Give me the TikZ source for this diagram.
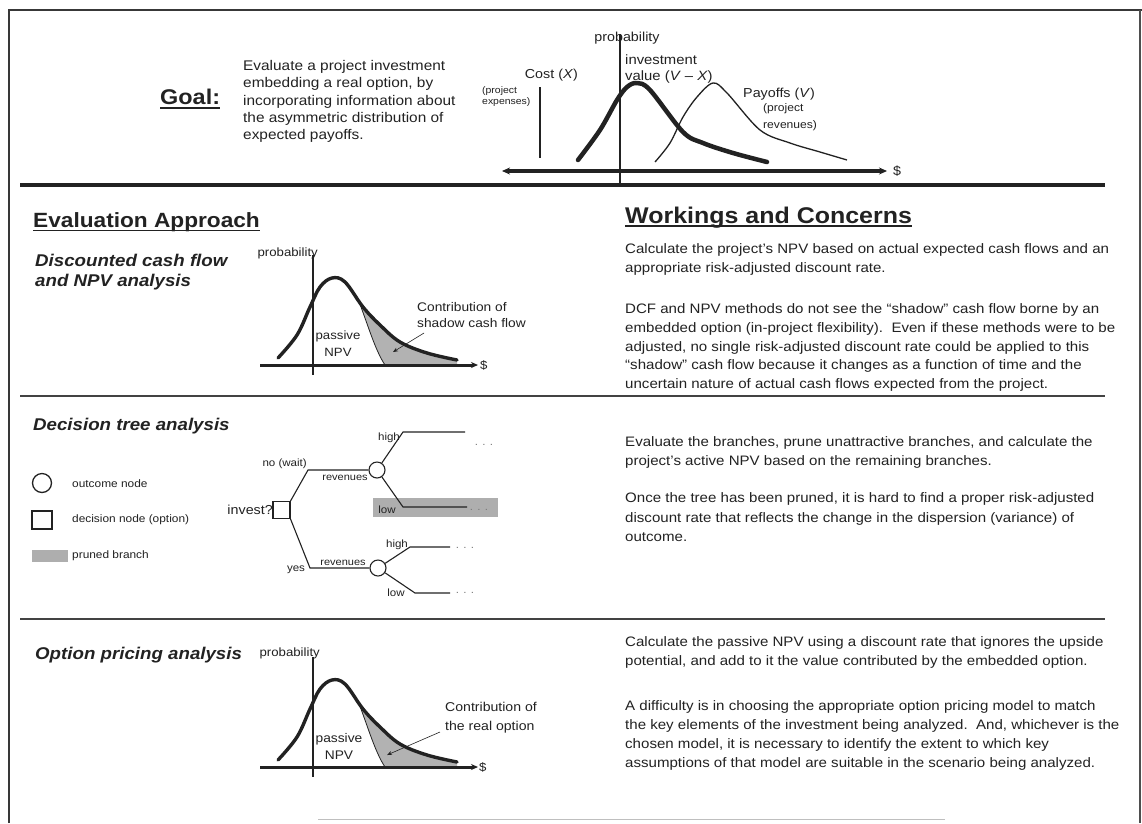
\documentclass[tikz,border=0pt]{standalone}
\usepackage{fontspec}
\setmainfont[FakeStretch=1.1]{Liberation Sans}
\usetikzlibrary{arrows.meta,calc}
\definecolor{ink}{HTML}{222222}
\definecolor{shadegray}{HTML}{B2B2B2}
\definecolor{prunegray}{HTML}{AEAEAE}
\newcommand\ptext[1]{\parbox[t]{560pt}{\raggedright #1}}
\newcommand\fs[2]{\fontsize{#1}{#2}\selectfont}
\tikzset{
  txt/.style={inner sep=0pt, anchor=base west, text=ink},
  body/.style={txt, font=\fs{13.7}{19}},
  head/.style={txt, font=\fs{17}{20}\bfseries\itshape},
  lbl/.style={inner sep=0pt, text=ink, font=\fs{12}{16}},
  tree/.style={inner sep=0pt, text=ink, font=\fs{10.5}{12}},
  branch/.style={line width=1.1pt, ink},
  leader/.style={line width=0.6pt, ink, -{Stealth[length=5pt,width=4pt]}},
  sep/.style={line width=1.5pt, ink!85},
}
\newcommand\DistChart{%
  \begin{scope}
    \clip plot[smooth,tension=0.6] coordinates {(-35,-7) (-16,-30) (-3,-58) (7,-78) (19,-87) (32,-83) (50,-58) (67,-40) (87,-23) (114,-12) (144,-5)} -- (144,0) -- (-35,0) -- cycle;
    \fill[shadegray] (45,-120) -- (45,-66) .. controls (55,-40) and (62,-15) .. (72,0) -- (170,0) -- (170,-120) -- cycle;
    \draw[line width=0.8pt, ink] (45,-66) .. controls (55,-40) and (62,-15) .. (72,0);
  \end{scope}
  \draw[line width=3.4pt, ink, line cap=round, line join=round] plot[smooth,tension=0.6] coordinates {(-35,-7) (-16,-30) (-3,-58) (7,-78) (19,-87) (32,-83) (50,-58) (67,-40) (87,-23) (114,-12) (144,-5)};
  \draw[line width=1.8pt, ink] (0,-110) -- (0,10);
  \draw[line width=3pt, ink, -{Stealth[length=7pt,width=6pt]}] (-53,0) -- (165,0);
}
\begin{document}
\begin{tikzpicture}[x=1pt,y=-1pt]
\useasboundingbox (0,0) rectangle (1142,823);
\fill[white] (0,0) rectangle (1142,823);
% frame
\draw[line width=2.4pt, ink!90] (9,823) -- (9,10) -- (1142,10);
\draw[line width=2pt, ink!80] (1140,10) -- (1140,823);
\draw[line width=1pt, black!25] (318,819) -- (945,819);

% ---------- Goal ----------
\node[txt, font=\fs{21.3}{24}\bfseries] (goal) at (160,104.7) {Goal:};
\draw[line width=1.8pt, ink] ($(goal.base west)+(0,3.5)$) -- ($(goal.base east)+(0,3.5)$);
\node[txt, font=\fs{14}{17.3}] (goaltext) at (243,70.5) {\ptext{Evaluate a project investment\\embedding a real option, by\\incorporating information about\\the asymmetric distribution of\\expected payoffs.}};

% top chart
\draw[line width=3.5pt, ink, {Stealth[length=8pt,width=7pt]}-{Stealth[length=8pt,width=7pt]}] (502,171) -- (887,171);
\draw[line width=2pt, ink] (620,34) -- (620,183);
\draw[line width=1.4pt, ink] (540,87) -- (540,158);
\draw[line width=4.5pt, ink, line cap=round, line join=round] plot[smooth, tension=0.55] coordinates {(578,160) (600,130) (617,100) (627,87) (637,83) (650,90) (683,132) (703,143) (733,153) (767,162)};
\draw[line width=1.3pt, ink] plot[smooth, tension=0.55] coordinates {(655,162) (670,143) (683,117) (697,97) (713,83) (727,93) (760,130) (790,143) (820,152) (847,160)};
\node[lbl, font=\fs{13}{15}] (tprob) at (627,38) {probability};
\node[lbl, font=\fs{13}{15}, anchor=east] (cost) at (578,75) {Cost (\textit{X})};
\node[txt, font=\fs{9.5}{10.5}] (costnote) at (482,93.5) {\ptext{(project\\expenses)}};
\node[txt, font=\fs{13.5}{16}] (invval) at (625,64.5) {\ptext{investment\\value (\textit{V} – \textit{X})}};
\node[txt, font=\fs{13}{15}] (payoffs) at (743,97.5) {Payoffs (\textit{V})};
\node[txt, font=\fs{11}{16.5}] (revnote) at (763,111.5) {\ptext{(project\\revenues)}};
\node[lbl, font=\fs{13}{15}, anchor=west] (tdollar) at (893,171) {\$};

\draw[line width=3.5pt, ink] (20,185) -- (1105,185);

% ---------- Section headings ----------
\node[txt, font=\fs{20.6}{24}\bfseries] (evalapp) at (33,227.5) {Evaluation Approach};
\draw[line width=1.6pt, ink] ($(evalapp.base west)+(0,3)$) -- ($(evalapp.base east)+(0,3)$);
\node[txt, font=\fs{22.7}{26}\bfseries] (workings) at (625,223) {Workings and Concerns};
\draw[line width=1.6pt, ink] ($(workings.base west)+(0,3)$) -- ($(workings.base east)+(0,3)$);

% ---------- DCF ----------
\node[head] (dcfhead) at (35,266) {\ptext{Discounted cash flow\\and NPV analysis}};
\begin{scope}[shift={(313,365)}]
  \DistChart
\end{scope}
\node[lbl, anchor=east] (dcfprob) at (318,253) {probability};
\node[lbl, align=center, font=\fs{12}{16.5}] (dcfnpv) at (338,343.5) {passive\\NPV};
\node[txt, font=\fs{12.5}{16}] (dcfcontrib) at (417,311) {\ptext{Contribution of\\shadow cash flow}};
\coordinate (dcfarrow) at (393,352);
\draw[leader] (424,333) -- (dcfarrow);
\node[lbl, anchor=west] (dcfdollar) at (480,365) {\$};

\node[body] (dcfp1) at (625,253.5) {\ptext{Calculate the project's NPV based on actual expected cash flows and an\\appropriate risk-adjusted discount rate.}};
\node[body, font=\fs{13.7}{18.8}] (dcfp2) at (625,313.5) {\ptext{DCF and NPV methods do not see the “shadow” cash flow borne by an\\embedded option (in-project flexibility).\ \ Even if these methods were to be\\adjusted, no single risk-adjusted discount rate could be applied to this\\“shadow” cash flow because it changes as a function of time and the\\uncertain nature of actual cash flows expected from the project.}};

\draw[sep] (20,396) -- (1105,396);

% ---------- Decision tree ----------
\node[head] (dthead) at (33,430) {Decision tree analysis};
% legend
\node[draw=ink, circle, minimum size=19pt, inner sep=0pt, line width=1.3pt] (legcirc) at (42,483) {};
\node[tree, anchor=west, font=\fs{10.8}{12}] (legcirct) at (72,484) {outcome node};
\node[draw=ink, rectangle, minimum width=20pt, minimum height=18pt, inner sep=0pt, line width=1.3pt] (legsq) at (42,520) {};
\node[tree, anchor=west, font=\fs{10.8}{12}] (legsqt) at (72,520) {decision node (option)};
\node[fill=prunegray, minimum width=36pt, minimum height=12pt, inner sep=0pt] (legpr) at (50,556) {};
\node[tree, anchor=west, font=\fs{10.8}{12}] (legprt) at (72,556) {pruned branch};

% tree
\node[fill=prunegray, minimum width=125pt, minimum height=19pt, inner sep=0pt] (prune) at (435.5,507.5) {};
\node[draw=ink, minimum size=17pt, inner sep=0pt, line width=1.1pt] (dec) at (281.5,510) {};
\node[tree, anchor=east, font=\fs{13}{14}] (invest) at (273,510) {invest?};
\node[draw=ink, circle, minimum size=16pt, inner sep=0pt, line width=1.1pt] (c1) at (377,470) {};
\node[draw=ink, circle, minimum size=16pt, inner sep=0pt, line width=1.1pt] (c2) at (378,568) {};
\coordinate (b1) at (308,470);
\coordinate (b2) at (403,432);
\coordinate (e2) at (465,432);
\coordinate (b3) at (403,507);
\coordinate (e3) at (467,507);
\coordinate (b4) at (310,568);
\coordinate (b5) at (410,547);
\coordinate (e5) at (450,547);
\coordinate (b6) at (415,593);
\coordinate (e6) at (450,593);
\draw[branch] (dec.north east) -- (b1) -- (c1);
\draw[branch] (c1) -- (b2) -- (e2);
\draw[branch] (c1) -- (b3) -- (e3);
\draw[branch] (dec.south east) -- (b4) -- (c2);
\draw[branch] (c2) -- (b5) -- (e5);
\draw[branch] (c2) -- (b6) -- (e6);
\node[tree, anchor=east] (nowait) at (307,464) {no (wait)};
\node[tree, font=\fs{10}{12}] (rev1) at (345,478) {revenues};
\node[tree] (high1) at (389,438) {high};
\node[tree, text=ink!60] (dots1) at (484,445) {. . .};
\node[tree] (low1) at (387,510) {low};
\node[tree, text=ink!60] (dots2) at (479,510) {. . .};
\node[tree] (yes) at (296,570) {yes};
\node[tree, font=\fs{10}{12}] (rev2) at (343,563) {revenues};
\node[tree] (high2) at (397,545) {high};
\node[tree, text=ink!60] (dots3) at (465,548) {. . .};
\node[tree] (low2) at (396,593) {low};
\node[tree, text=ink!60] (dots4) at (465,593) {. . .};

\node[body] (dtp1) at (625,446.5) {\ptext{Evaluate the branches, prune unattractive branches, and calculate the\\project's active NPV based on the remaining branches.}};
\node[body, font=\fs{13.7}{19.5}] (dtp2) at (625,502.5) {\ptext{Once the tree has been pruned, it is hard to find a proper risk-adjusted\\discount rate that reflects the change in the dispersion (variance) of\\outcome.}};

\draw[sep] (20,619) -- (1105,619);

% ---------- Option pricing ----------
\node[head] (ophead) at (35,659) {Option pricing analysis};
\begin{scope}[shift={(313,767)}]
  \DistChart
\end{scope}
\node[lbl, anchor=east] (opprob) at (320,653) {probability};
\node[lbl, align=center, font=\fs{12.5}{17}] (opnpv) at (339,746.5) {passive\\NPV};
\node[txt, font=\fs{12.8}{19}] (opcontrib) at (445,711) {\ptext{Contribution of\\the real option}};
\coordinate (oparrow) at (387,755);
\draw[leader] (440,732) -- (oparrow);
\node[lbl, anchor=west] (opdollar) at (479,767) {\$};

\node[body] (opp1) at (625,646.5) {\ptext{Calculate the passive NPV using a discount rate that ignores the upside\\potential, and add to it the value contributed by the embedded option.}};
\node[body] (opp2) at (625,710.5) {\ptext{A difficulty is in choosing the appropriate option pricing model to match\\the key elements of the investment being analyzed.\ \ And, whichever is the\\chosen model, it is necessary to identify the extent to which key\\assumptions of that model are suitable in the scenario being analyzed.}};
\end{tikzpicture}
\end{document}
